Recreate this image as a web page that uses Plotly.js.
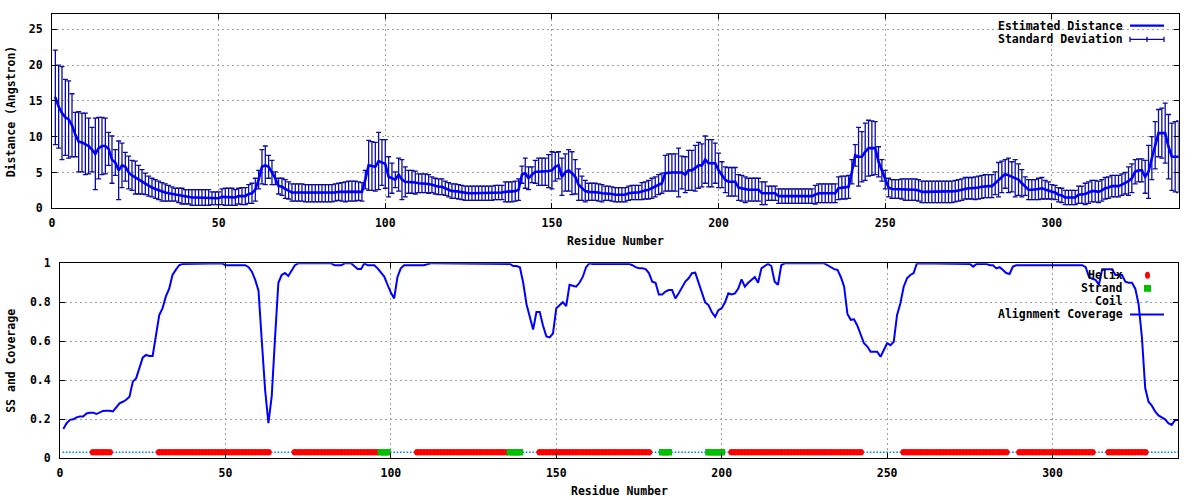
<!DOCTYPE html>
<html><head><meta charset="utf-8">
<script src="https://cdn.plot.ly/plotly-3.0.1.min.js"></script>
<style>html,body{margin:0;padding:0;background:#fff}#chart{width:1200px;height:500px}</style>
</head><body><div id="chart"></div>
<script>
// ---------- DATA ----------
const distance = [
15.5,14.2,13.3,12.7,12.4,11.6,10.3,9.3,9.2,9.0,
8.7,8.2,7.6,8.4,8.7,8.7,8.3,6.8,6.4,5.3,
6.0,5.8,5.0,4.6,4.3,4.0,3.7,3.4,3.1,2.9,
2.7,2.5,2.3,2.2,2.1,2.0,1.9,1.8,1.7,1.6,
1.6,1.5,1.5,1.5,1.5,1.5,1.5,1.4,1.4,1.4,
1.6,1.6,1.6,1.6,1.5,1.7,1.7,1.7,2.0,2.1,
2.6,4.0,5.8,6.0,5.8,5.0,4.2,3.1,3.0,2.7,
2.5,2.2,2.2,2.2,2.2,2.1,2.1,2.1,2.1,2.1,
2.1,2.1,2.1,2.1,2.2,2.3,2.3,2.3,2.4,2.4,
2.4,2.4,2.3,4.0,6.0,5.9,5.8,6.6,6.4,6.2,
4.4,4.2,4.0,4.7,4.0,3.7,3.7,3.7,3.6,3.5,
3.5,3.5,3.4,3.3,3.1,3.0,3.0,2.8,2.6,2.4,
2.4,2.3,2.2,2.1,2.1,2.1,2.1,2.1,2.1,2.1,
2.1,2.1,2.2,2.2,2.2,2.3,2.3,2.3,2.4,2.6,
4.7,4.9,4.2,4.7,5.1,5.1,5.1,5.1,5.2,5.3,
5.8,6.0,4.4,5.0,5.3,4.9,4.4,3.3,2.8,2.4,
2.3,2.3,2.3,2.2,2.1,2.1,2.1,2.0,1.9,1.9,
1.9,1.9,2.1,2.2,2.2,2.2,2.4,2.5,2.6,2.8,
3.0,3.3,3.5,4.9,5.0,5.0,5.0,5.0,5.0,4.7,
5.3,5.3,5.6,6.0,6.0,6.8,6.3,6.3,6.3,5.3,
4.7,4.0,3.7,3.7,3.7,2.9,2.8,2.6,2.6,2.6,
2.6,2.6,2.1,2.1,2.1,2.1,2.1,1.7,1.7,1.7,
1.7,1.7,1.7,1.7,1.7,1.7,1.7,1.7,1.9,2.1,
2.1,2.1,2.1,2.1,2.1,2.8,2.9,2.9,3.0,5.1,
7.4,7.2,7.2,7.9,8.4,8.4,8.4,6.5,5.3,4.0,
2.9,2.7,2.7,2.7,2.7,2.6,2.6,2.6,2.6,2.5,
2.3,2.3,2.3,2.3,2.3,2.3,2.3,2.3,2.3,2.3,
2.4,2.5,2.6,2.8,2.8,2.8,2.8,2.9,3.0,3.1,
3.1,3.1,3.5,4.0,4.4,4.8,4.6,4.4,4.2,4.0,
3.5,3.1,2.6,2.6,2.6,2.7,2.8,2.6,2.5,2.3,
2.2,1.9,1.8,1.5,1.5,1.5,1.5,1.9,1.9,2.0,
2.2,2.4,2.4,2.3,2.5,2.8,2.9,3.1,3.1,3.1,
3.3,3.5,3.8,4.2,5.1,5.3,5.3,4.4,5.1,7.0,
8.8,10.5,10.5,10.5,8.6,7.2,7.2,7.2
];
const stdDev = [
6.6,5.8,6.5,5.3,5.4,4.4,3.1,4.2,4.1,4.3,
3.9,3.1,5.0,4.3,4.0,3.9,2.3,3.3,1.8,4.1,
3.1,2.0,2.3,2.1,2.3,2.0,1.7,1.5,1.4,1.3,
1.3,1.3,1.3,1.2,1.1,1.0,0.9,1.0,1.1,1.0,
1.0,1.1,1.1,1.1,1.1,1.1,1.1,0.9,0.9,0.9,
1.1,1.2,1.2,1.2,1.1,1.1,1.2,1.2,1.3,1.4,
1.6,1.3,2.4,2.7,1.6,1.7,0.9,1.1,1.2,1.3,
1.2,1.2,1.2,1.2,1.2,1.2,1.2,1.2,1.2,1.2,
1.2,1.2,1.2,1.2,1.2,1.2,1.3,1.4,1.4,1.4,
1.4,1.3,1.3,1.3,3.5,3.4,3.4,4.0,3.2,3.4,
2.8,2.1,1.1,2.3,2.8,2.1,1.6,1.6,1.6,1.3,
1.3,1.3,1.3,1.1,1.1,1.1,1.1,1.0,1.0,1.0,
1.0,1.0,1.0,1.0,1.0,1.0,1.0,1.0,1.0,1.0,
1.0,1.0,1.0,1.0,1.0,1.4,1.4,1.4,1.4,1.5,
1.2,2.1,1.6,1.1,1.6,1.9,1.9,1.9,2.3,2.6,
2.0,1.9,2.6,2.6,2.9,3.0,2.4,2.2,1.7,1.5,
1.2,1.2,1.2,1.2,1.2,1.0,1.0,1.0,1.0,1.0,
1.0,1.0,1.0,1.0,1.0,1.0,1.2,1.2,1.3,1.4,
1.4,1.4,1.4,2.5,2.6,2.6,2.6,3.4,2.3,2.5,
2.8,2.8,3.2,3.2,3.0,3.3,3.3,3.3,2.8,2.4,
1.8,1.8,2.0,2.0,2.0,1.8,1.8,1.8,1.6,1.6,
1.6,1.6,1.6,1.6,1.0,1.0,1.0,1.0,1.0,1.0,
1.0,1.0,1.0,1.0,1.0,1.0,1.0,1.0,1.3,1.3,
1.3,1.3,1.3,1.3,1.3,1.6,1.6,1.6,1.6,1.7,
1.5,4.1,3.5,4.0,3.9,3.8,3.7,2.1,1.5,1.3,
1.3,1.3,1.3,1.3,1.4,1.5,1.5,1.5,1.5,1.5,
1.5,1.5,1.5,1.5,1.5,1.5,1.5,1.5,1.5,1.5,
1.5,1.5,1.5,1.5,1.5,1.5,1.6,1.6,1.6,1.6,
1.6,1.6,1.6,2.4,2.2,2.0,2.4,2.1,2.6,2.2,
1.9,1.3,1.4,1.4,1.4,1.5,1.5,1.3,1.2,1.0,
1.0,1.0,1.0,1.0,1.0,1.0,1.0,1.2,1.2,1.5,
1.5,1.5,1.5,1.5,1.5,1.5,1.5,1.5,1.5,1.5,
1.5,1.5,2.0,2.0,1.7,1.6,1.6,2.3,3.7,3.0,
3.3,3.3,3.5,4.2,4.5,4.7,4.9,5.0
];
const coverage = [
0.150,0.180,0.197,0.200,0.210,0.214,0.214,0.230,0.234,0.234,
0.227,0.234,0.243,0.244,0.244,0.240,0.260,0.282,0.290,0.300,
0.316,0.393,0.410,0.470,0.516,0.530,0.525,0.525,0.624,0.735,
0.770,0.830,0.870,0.940,0.966,0.990,0.997,0.997,0.997,0.997,
0.997,0.997,0.997,0.997,0.997,0.997,0.997,1.000,1.000,0.990,
0.990,0.990,0.990,0.990,0.990,0.990,0.980,0.957,0.915,0.860,
0.600,0.350,0.180,0.320,0.620,0.900,0.940,0.950,0.935,0.966,
0.990,1.000,1.000,1.000,1.000,1.000,1.000,1.000,1.000,1.000,
1.000,1.000,0.990,0.990,0.990,1.000,1.000,1.000,0.985,0.971,
0.971,1.000,0.990,0.990,0.990,0.974,0.955,0.932,0.890,0.850,
0.820,0.930,0.974,0.990,0.990,0.990,0.990,0.990,0.990,0.990,
0.995,1.000,1.000,1.000,1.000,1.000,1.000,1.000,1.000,1.000,
1.000,1.000,1.000,1.000,1.000,1.000,1.000,1.000,1.000,1.000,
1.000,1.000,0.997,0.997,0.997,0.997,0.986,0.986,0.980,0.900,
0.790,0.730,0.660,0.750,0.750,0.680,0.625,0.620,0.640,0.770,
0.786,0.800,0.780,0.890,0.885,0.880,0.900,0.930,0.980,1.000,
0.997,0.997,0.997,0.997,0.997,0.997,0.997,0.997,0.997,0.997,
0.997,0.997,0.990,0.980,0.975,0.975,0.970,0.950,0.906,0.900,
0.840,0.840,0.855,0.863,0.863,0.820,0.846,0.880,0.906,0.923,
0.949,0.952,0.900,0.840,0.800,0.786,0.750,0.726,0.760,0.770,
0.800,0.846,0.840,0.846,0.870,0.918,0.880,0.900,0.915,0.930,
0.900,0.974,0.986,0.997,0.986,0.906,0.890,0.990,1.000,1.000,
1.000,1.000,1.000,1.000,1.000,1.000,1.000,1.000,1.000,1.000,
1.000,0.990,0.980,0.970,0.966,0.930,0.880,0.740,0.710,0.713,
0.680,0.632,0.590,0.573,0.547,0.547,0.547,0.521,0.556,0.590,
0.580,0.598,0.735,0.795,0.880,0.923,0.940,0.950,1.000,1.000,
1.000,1.000,1.000,1.000,1.000,1.000,1.000,1.000,0.997,0.997,
0.997,0.997,0.997,0.997,0.997,0.983,0.997,0.997,0.997,0.997,
0.990,0.990,0.974,0.980,0.966,0.950,0.945,0.983,0.990,0.990,
0.990,0.990,0.990,0.990,0.990,0.990,0.990,0.990,0.990,0.990,
0.990,0.990,0.990,0.990,0.990,0.990,0.990,0.990,0.990,0.980,
0.930,0.920,0.915,0.890,0.970,0.970,0.970,0.970,0.940,0.940,
0.940,0.906,0.900,0.900,0.870,0.790,0.620,0.360,0.290,0.270,
0.240,0.220,0.210,0.200,0.180,0.171,0.195,0.197
];
// secondary structure segments [first residue, last residue]
const helixSegments  = [[10,15],[30,63],[71,96],[108,135],[145,178],[203,242],[255,286],[290,312],[317,328]];
const strandSegments = [[97,99],[136,139],[182,184],[196,200]];
const ssLevel = 0.031;
const xTickVals = [0,50,100,150,200,250,300];
const yTickTop = [0,5,10,15,20,25];
const yTickBottom = [0,0.2,0.4,0.6,0.8,1];
const legendTop = ["Estimated Distance","Standard Deviation"];
const legendBottom = ["Helix","Strand","Coil","Alignment Coverage"];
const axisTitles = {xTop:"Residue Number", yTop:"Distance (Angstron)", xBottom:"Residue Number", yBottom:"SS and Coverage"};

// ---------- BUILD ----------
const residues = distance.map((_, i) => i + 1);
const ssType = residues.map(r => {
  if (helixSegments.some(s => r >= s[0] && r <= s[1])) return 'H';
  if (strandSegments.some(s => r >= s[0] && r <= s[1])) return 'E';
  return 'C';
});
const pick = t => residues.filter((r, i) => ssType[i] === t);

const W = 1200, H = 500;
const px = v => v / W, py = v => 1 - v / H;
const FONT = {family: "'DejaVu Sans Mono', 'Liberation Mono', monospace", size: 11.5, color: '#000', weight: 'bold'};
const BLUE = '#0000ff', ERR = '#0c0c9c', RED = '#ff0000', GREEN = '#00c000', COIL = '#0080ff';

const traces = [
  {x: residues, y: distance, xaxis: 'x', yaxis: 'y', type: 'scatter', mode: 'markers',
   marker: {size: 2, color: ERR},
   error_y: {type: 'data', array: stdDev, visible: true, color: ERR, thickness: 1.3, width: 2.5},
   hoverinfo: 'skip', showlegend: false},
  {x: residues, y: distance, xaxis: 'x', yaxis: 'y', type: 'scatter', mode: 'lines',
   line: {color: BLUE, width: 2.6}, showlegend: false},
  {x: pick('C'), y: pick('C').map(() => ssLevel), xaxis: 'x2', yaxis: 'y2', type: 'scatter', mode: 'markers',
   marker: {symbol: 'square', size: 1.6, color: COIL}, showlegend: false},
  {x: pick('H'), y: pick('H').map(() => ssLevel), xaxis: 'x2', yaxis: 'y2', type: 'scatter', mode: 'markers',
   marker: {symbol: 'circle', size: 6.6, color: RED, line: {width: 0}}, showlegend: false},
  {x: pick('E'), y: pick('E').map(() => ssLevel), xaxis: 'x2', yaxis: 'y2', type: 'scatter', mode: 'markers',
   marker: {symbol: 'square', size: 6.6, color: GREEN, line: {width: 0}}, showlegend: false},
  {x: residues, y: coverage, xaxis: 'x2', yaxis: 'y2', type: 'scatter', mode: 'lines',
   line: {color: BLUE, width: 2}, showlegend: false}
];

const axisCommon = {
  showline: true, linecolor: '#000', linewidth: 1, mirror: 'ticks',
  ticks: 'inside', ticklen: 5, tickwidth: 1, tickcolor: '#000',
  showgrid: true, gridcolor: '#a0a0a0', griddash: '2px,3px', gridwidth: 1,
  zeroline: false, tickfont: FONT, tickmode: 'array', fixedrange: true
};
const layout = {
  width: W, height: H, margin: {l: 0, r: 0, t: 0, b: 0},
  paper_bgcolor: '#fff', plot_bgcolor: '#fff', showlegend: false,
  xaxis: Object.assign({}, axisCommon, {domain: [px(52), px(1178.5)], range: [0, 338], tickvals: xTickVals, anchor: 'y', ticklabelstandoff: 4}),
  yaxis: Object.assign({}, axisCommon, {domain: [py(208.3), py(14.3)], range: [0, 27.1], tickvals: yTickTop, anchor: 'x', ticklabelstandoff: 6}),
  xaxis2: Object.assign({}, axisCommon, {domain: [px(60), px(1178.3)], range: [0, 338], tickvals: xTickVals, anchor: 'y2', ticklabelstandoff: 4}),
  yaxis2: Object.assign({}, axisCommon, {domain: [py(458.3), py(263.3)], range: [0, 1], tickvals: yTickBottom, anchor: 'x2', ticklabelstandoff: 6}),
  annotations: [],
  shapes: []
};

const ann = (text, x, y, opts) => Object.assign({text, x: px(x), y: py(y), xref: 'paper', yref: 'paper',
  showarrow: false, font: FONT, xanchor: 'center', yanchor: 'middle', borderpad: 0}, opts || {});
layout.annotations.push(ann(axisTitles.yTop, 11, 111.3, {textangle: -90}));
layout.annotations.push(ann(axisTitles.xTop, 615, 240.7));
layout.annotations.push(ann(axisTitles.yBottom, 11, 360.8, {textangle: -90}));
layout.annotations.push(ann(axisTitles.xBottom, 619, 491));

// legend boxes (opaque, under traces, over grid)
const rect = (x0, y0, x1, y1, o) => Object.assign({type: 'rect', xref: 'paper', yref: 'paper',
  x0: px(x0), x1: px(x1), y0: py(y1), y1: py(y0), line: {width: 0}, fillcolor: '#fff'}, o || {});
const seg = (x0, y0, x1, y1, color, w) => ({type: 'line', xref: 'paper', yref: 'paper',
  x0: px(x0), x1: px(x1), y0: py(y0), y1: py(y1), line: {color, width: w}, layer: 'above'});
layout.shapes.push(rect(995, 16, 1172, 48, {layer: 'between'}));
layout.shapes.push(rect(999, 267, 1172, 320, {layer: 'between'}));

// top legend
const tRows = [25.7, 39.3];
legendTop.forEach((t, i) => layout.annotations.push(ann(t, 1124, tRows[i], {xanchor: 'right'})));
layout.shapes.push(seg(1130, tRows[0], 1164, tRows[0], BLUE, 2.2));
layout.shapes.push(seg(1130, tRows[1], 1164, tRows[1], ERR, 1.3));
[1130, 1147, 1164].forEach(xx => layout.shapes.push(seg(xx, tRows[1] - 2.6, xx, tRows[1] + 2.6, ERR, 1.3)));

// bottom legend
const bRows = [275.3, 288.4, 301.4, 314.4];
legendBottom.forEach((t, i) => layout.annotations.push(ann(t, 1124, bRows[i], {xanchor: 'right'})));
layout.shapes.push({type: 'circle', xref: 'paper', yref: 'paper', x0: px(1145), x1: px(1150), y0: py(bRows[0] + 3.5), y1: py(bRows[0] - 3.5), fillcolor: RED, line: {width: 0}, layer: 'above'});
layout.shapes.push(rect(1144, bRows[1] - 3.4, 1151, bRows[1] + 3.4, {fillcolor: GREEN, layer: 'above'}));
layout.shapes.push(rect(1146.5, bRows[2] - 0.6, 1147.7, bRows[2] + 0.6, {fillcolor: COIL, layer: 'above'}));
layout.shapes.push(seg(1130, bRows[3], 1164, bRows[3], BLUE, 2));

Plotly.newPlot('chart', traces, layout, {staticPlot: true, displayModeBar: false});
</script>
</body></html>
